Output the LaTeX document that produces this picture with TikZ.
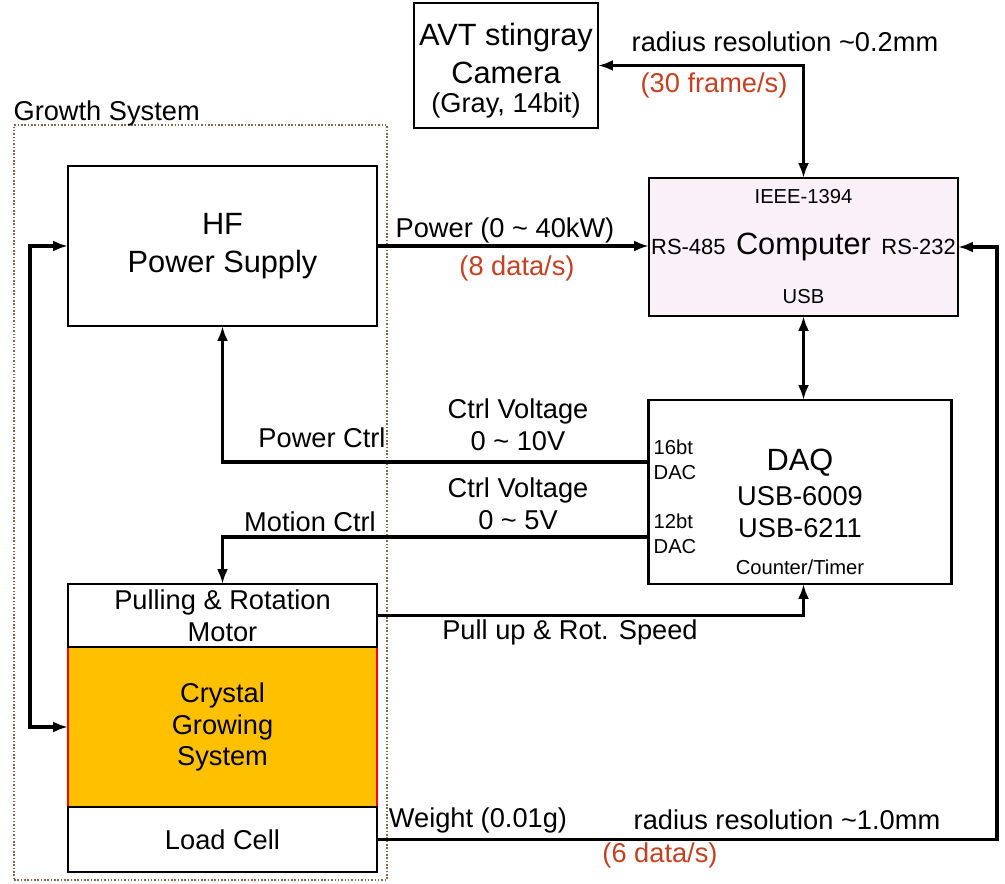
\documentclass[tikz,border=0pt]{standalone}
\usepackage{fontspec}
\setmainfont{Liberation Sans}
\usetikzlibrary{arrows.meta,positioning,calc}
\definecolor{ratered}{RGB}{196,64,32}
\definecolor{growbrown}{RGB}{140,100,70}
\definecolor{pcpink}{RGB}{249,240,248}
\definecolor{crystalorange}{RGB}{255,192,0}
\tikzset{
  font=\fontsize{15.5}{18}\selectfont,
  box/.style={
    draw,
    line width=1.3pt,
    align=center,
    inner sep=0pt,
    outer sep=0pt
  },
  big/.style={font=\fontsize{17.5}{21.5}\selectfont},
  mid/.style={font=\fontsize{12.5}{15}\selectfont, inner sep=1pt},
  small/.style={font=\fontsize{11.5}{14}\selectfont, align=left, inner sep=1pt},
  lbl/.style={align=center, inner sep=1pt},
  rate/.style={lbl, text=ratered},
  group/.style={
    draw=growbrown,
    line width=0.9pt,
    dash pattern=on 0.9pt off 1pt
  },
  arrow/.style={-{Latex[length=3mm,width=2.2mm]}, line width=1.8pt},
  dblarrow/.style={{Latex[length=3mm,width=2.2mm]}-{Latex[length=3mm,width=2.2mm]}, line width=1.8pt}
}

\begin{document}
\begin{tikzpicture}[x=0.02cm, y=-0.02cm, node distance=0pt]
\useasboundingbox (0,0) rectangle (1005,884);

% --- growth system frame ---
\node[group, minimum width=7.46cm, minimum height=15.1cm] (grow) at (200.5,502.5) {};
\node[lbl, anchor=south west, inner sep=0pt] (growlbl) at ([yshift=-1.5pt]grow.north west) {Growth System};

% --- boxes ---
\node[box, minimum width=3.68cm, minimum height=2.5cm] (cam) at (506,65.5) {};
\node[lbl, big] (camtxt) at (506,53.5) {AVT stingray\\Camera};
\node[lbl] (camfmt) at (506,105) {(Gray, 14bit)};

\node[box, big, minimum width=6.18cm, minimum height=3.2cm] (hf) at (222.5,246) {HF\\Power Supply};

\node[box, big, fill=pcpink, minimum width=6.18cm, minimum height=2.76cm] (comp) at (803.5,247) {Computer};
\node[small, below=5pt of comp.north] (ieee) {IEEE-1394};
\node[mid, right=0pt of comp.west] (rs485) {RS-485};
\node[mid, left=0pt of comp.east] (rs232) {RS-232};
\node[small, above=6pt of comp.south] (usb) {USB};

\node[box, minimum width=6.06cm, minimum height=3.68cm] (daq) at (800,492) {};
\node[lbl, big] (daqtxt) at (800,463) {DAQ};
\node[lbl] (daqmod) at (800,512) {USB-6009\\USB-6211};
\node[small, above=4pt of daq.south] (timer) {Counter/Timer};
\node[small] (dac16) at (675,460) {16bt\\DAC};
\node[small] (dac12) at (675,534) {12bt\\DAC};

\node[box, draw=red, fill=crystalorange, minimum width=6.18cm, minimum height=3.2cm] (crystal) at (222.5,727) {Crystal\\Growing\\System};
\node[box, minimum width=6.18cm, minimum height=1.26cm, above=of crystal] (motor) {Pulling \& Rotation\\Motor};
\node[box, minimum width=6.18cm, minimum height=1.3cm, below=of crystal] (load) {Load Cell};

% --- connectors ---
\draw[dblarrow] (comp.north) |- (cam.east);
\draw[arrow] (hf.east) -- (hf.east -| comp.west);
\draw[dblarrow] (comp.south) -- (comp.south |- daq.north);
\draw[arrow] ([yshift=0.6cm]daq.west) -| (hf.south);
\draw[arrow] ([yshift=-0.9cm]daq.west) -| (motor.north);
\draw[arrow] (motor.east) -| (comp.south |- daq.south);
\draw[arrow] (load.east) -- ++(620,0) |- (comp.east);
\draw[dblarrow] (hf.west) -- ++(-38,0) |- (crystal.west);

% --- labels ---
\node[lbl] (camres) at (785,42) {radius resolution \textasciitilde0.2mm};
\node[rate] (camrate) at (714,85) {(30 frame/s)};
\node[lbl] (pwrlbl) at (505,230) {Power (0 \textasciitilde{} 40kW)};
\node[rate] (pwrrate) at (517,268) {(8 data/s)};
\node[lbl] (v10) at (518,425) {Ctrl Voltage\\0 \textasciitilde{} 10V};
\node[lbl] (pctrl) at (322,438) {Power Ctrl};
\node[lbl] (v5) at (518,504) {Ctrl Voltage\\0 \textasciitilde{} 5V};
\node[lbl] (mctrl) at (310,522) {Motion Ctrl};
\node[lbl] (speed) at (570,632) {Pull up \& Rot. Speed};
\node[lbl] (wlbl) at (478,820) {Weight (0.01g)};
\node[lbl] (loadres) at (787,820) {radius resolution \textasciitilde1.0mm};
\node[rate] (loadrate) at (660,855) {(6 data/s)};

\end{tikzpicture}
\end{document}
